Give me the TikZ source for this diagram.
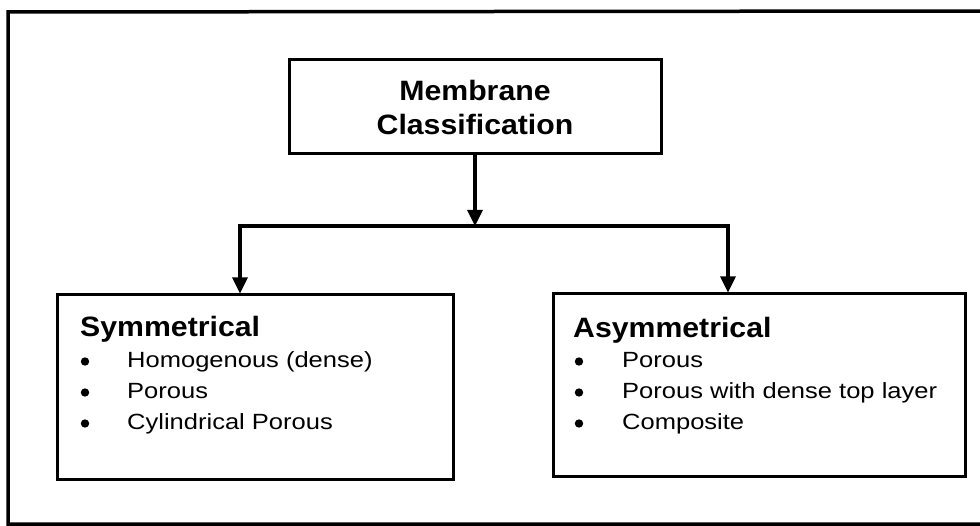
\documentclass[tikz,border=0pt]{standalone}
\usepackage{fontspec}
\setmainfont{Liberation Sans}
\newfontfamily\headfont{Liberation Sans}[FakeStretch=1.08]
\newfontfamily\itemfont{Liberation Sans}[FakeStretch=1.16]
\usetikzlibrary{arrows.meta}
\begin{document}
\begin{tikzpicture}[x=1pt,y=-1pt,
  box/.style={draw, line width=3pt, rectangle, inner sep=0pt},
  conn/.style={line width=3.2pt, -{Triangle[width=15pt,length=16pt]}},
  headtxt/.style={anchor=base west, inner sep=0pt, font=\headfont\bfseries\fontsize{28}{34}\selectfont},
  itemtxt/.style={anchor=base west, inner sep=0pt, font=\itemfont\fontsize{22}{26}\selectfont},
  bul/.style={fill=black}]
\useasboundingbox (0,0) rectangle (980,526);
% outer frame
\draw[line width=3.5pt] (990,11) -- (8,12) -- (8,524) -- (990,524);
% boxes
\node[box, minimum width=372pt, minimum height=94pt, align=center,
      font=\headfont\bfseries\fontsize{28}{34}\selectfont] (root) at (475,107) {Membrane\\Classification};
\node[box, minimum width=396pt, minimum height=184pt] (sym) at (255,387) {};
\node[box, minimum width=412pt, minimum height=182pt] (asym) at (759,385) {};
% connectors
\coordinate (j) at (475,226);
\coordinate (jl) at (240,226);
\coordinate (jr) at (728,226);
\draw[conn] (root.south -| j) -- (j);
\draw[conn] (j) -| (sym.north -| jl);
\draw[conn] (j) -| (asym.north -| jr);
% left texts
\node[headtxt] (symh) at (80,337) {Symmetrical};
\node[itemtxt] (s1) at (127,368) {Homogenous (dense)};
\node[itemtxt] (s2) at (127,399) {Porous};
\node[itemtxt] (s3) at (127,430) {Cylindrical Porous};
\fill[bul] (85,361.5) circle (4.2pt);
\fill[bul] (85,392.5) circle (4.2pt);
\fill[bul] (85,423.5) circle (4.2pt);
% right texts
\node[headtxt] (asymh) at (573,338) {Asymmetrical};
\node[itemtxt] (a1) at (622,368) {Porous};
\node[itemtxt] (a2) at (622,399) {Porous with dense top layer};
\node[itemtxt] (a3) at (622,430) {Composite};
\fill[bul] (579,361.5) circle (4.2pt);
\fill[bul] (579,392.5) circle (4.2pt);
\fill[bul] (579,423.5) circle (4.2pt);
\end{tikzpicture}
\end{document}
